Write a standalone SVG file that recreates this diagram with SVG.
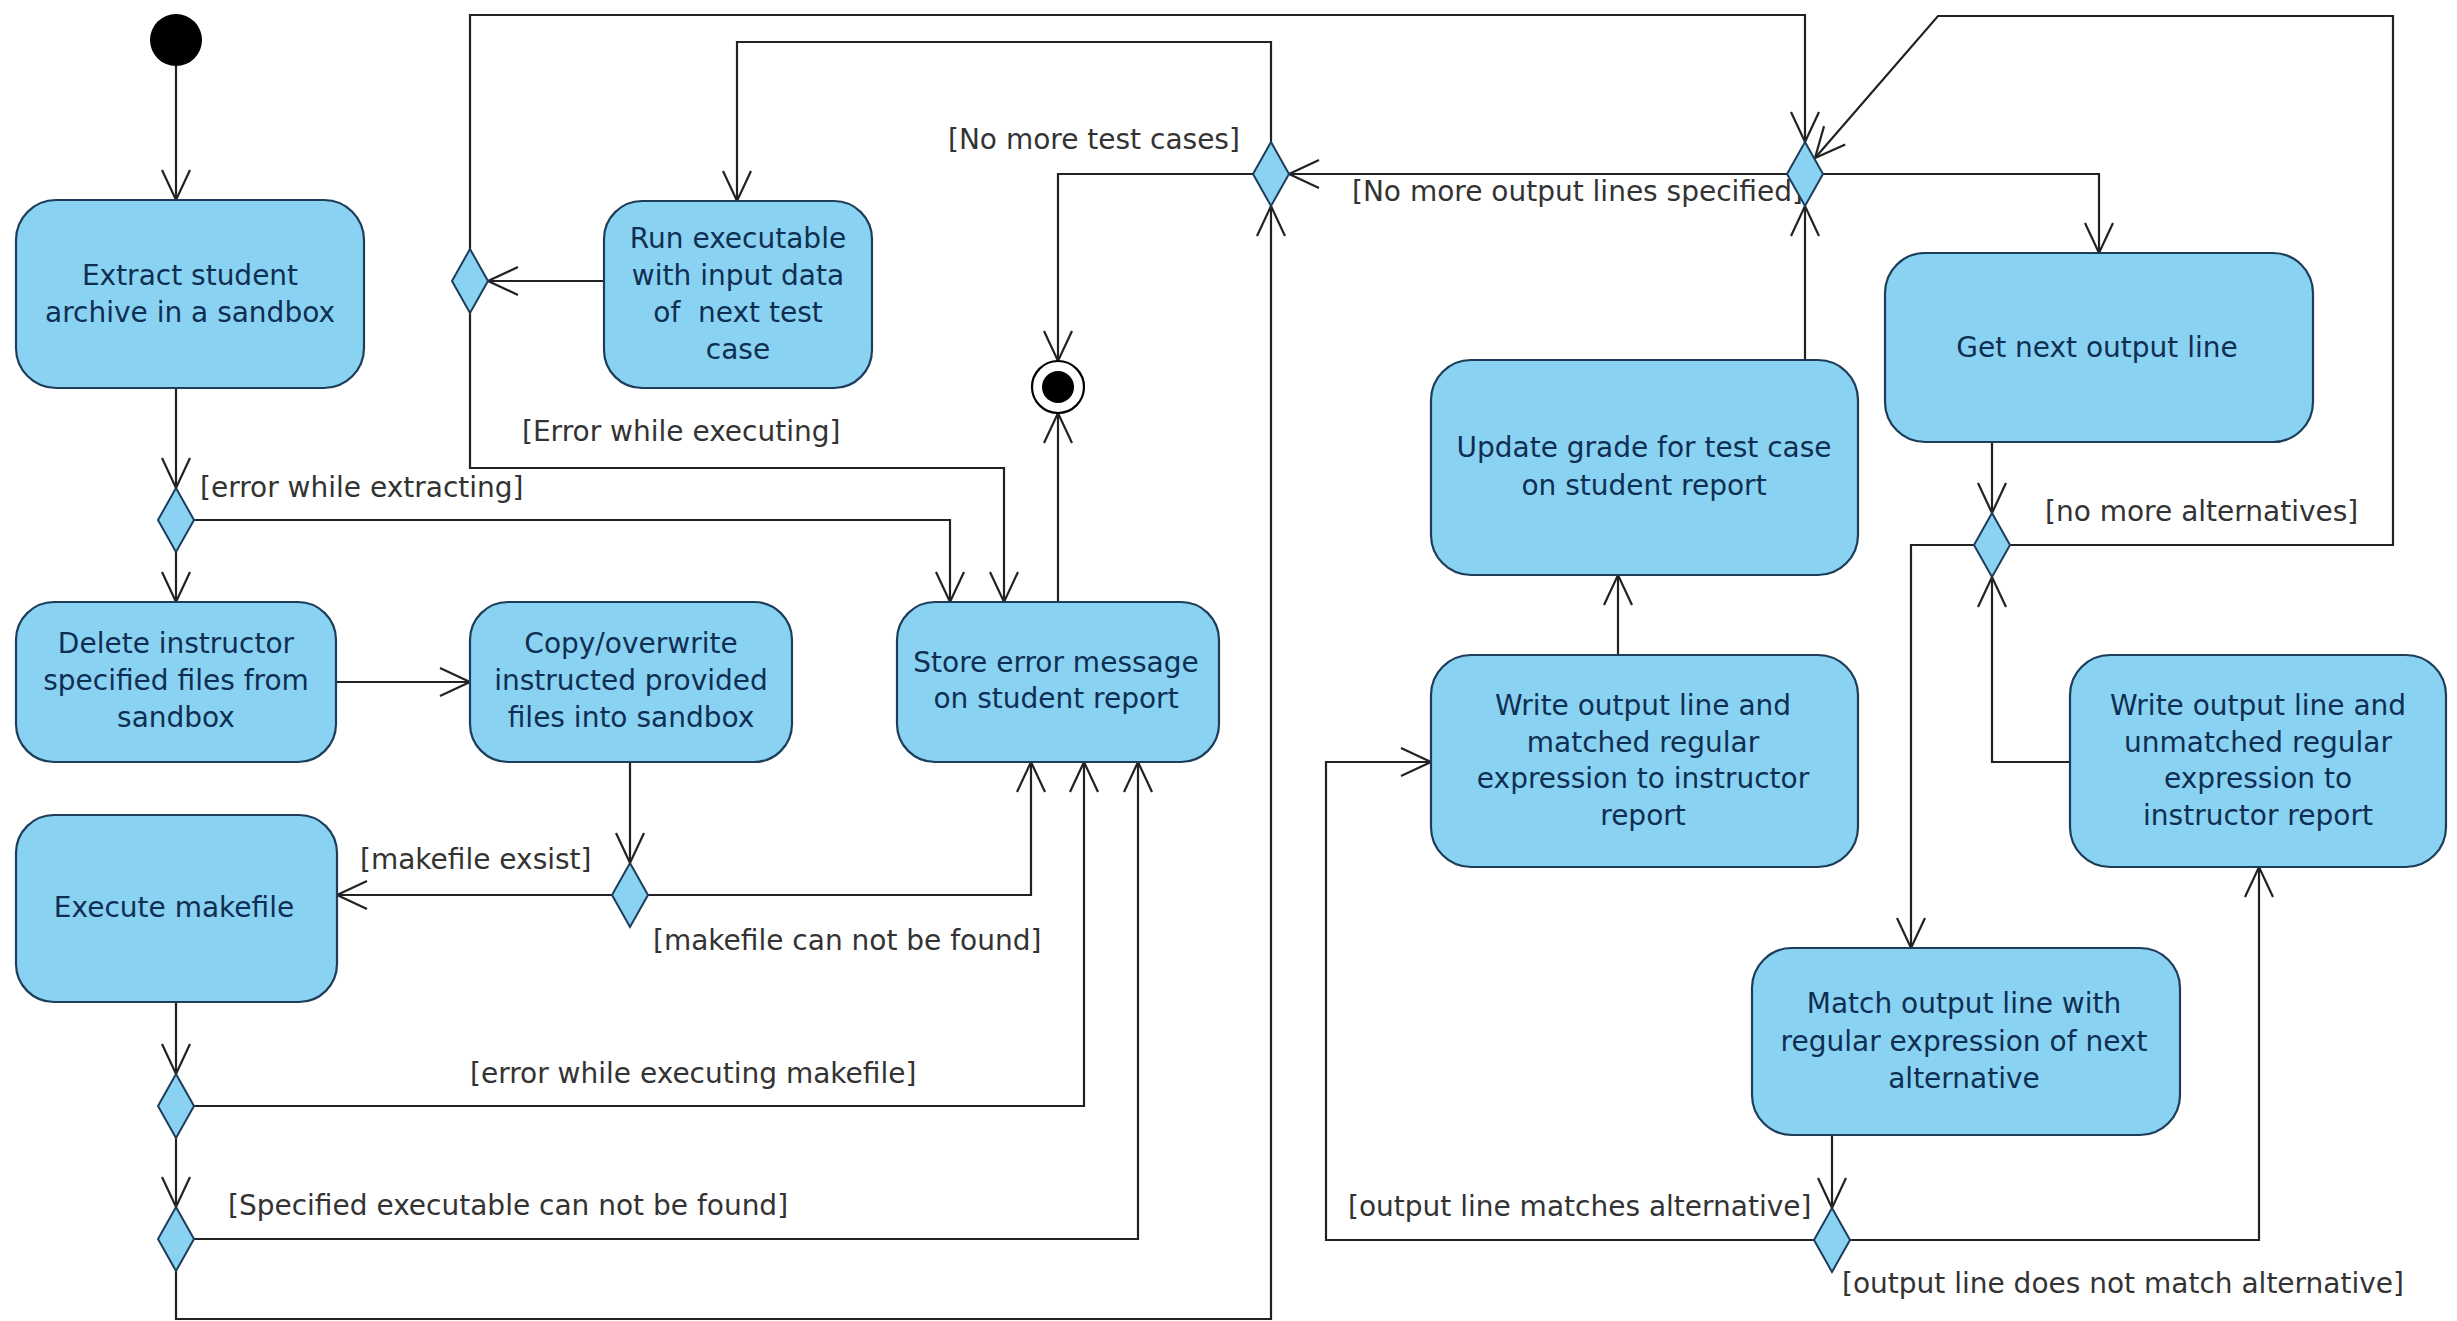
<svg xmlns="http://www.w3.org/2000/svg" width="2457" height="1321" viewBox="0 0 2457 1321">
<style>
.box{fill:#8ad2f2;stroke:#1d3d5a;stroke-width:2.2}
.dia{fill:#8ad2f2;stroke:#1d3d5a;stroke-width:2}
.nt{font-family:"DejaVu Sans",sans-serif;font-size:28px;fill:#0f2f52;text-anchor:middle}
.lb{font-family:"DejaVu Sans",sans-serif;font-size:28px;fill:#333}
.c{fill:none;stroke:#222;stroke-width:2.2;marker-end:url(#a)}
</style>
<defs>
<marker id="a" markerUnits="userSpaceOnUse" markerWidth="40" markerHeight="40" viewBox="-34 -20 40 40" refX="0" refY="0" orient="auto">
<path d="M-30,-14 L0,0 L-30,14" fill="none" stroke="#222" stroke-width="2.2"/>
</marker>
</defs>
<rect width="2457" height="1321" fill="#fff"/>

<g id="connectors">
<path class="c" d="M176,66 V200"/>
<path class="c" d="M176,388 V488"/>
<path class="c" d="M176,552 V602"/>
<path class="c" d="M194,520 H950 V602"/>
<path class="c" d="M336,682 H470"/>
<path class="c" d="M630,762 V863"/>
<path class="c" d="M612,895 H337"/>
<path class="c" d="M648,895 H1031 V762"/>
<path class="c" d="M176,1002 V1074"/>
<path class="c" d="M194,1106 H1084 V762"/>
<path class="c" d="M176,1138 V1207"/>
<path class="c" d="M194,1239 H1138 V762"/>
<path class="c" d="M176,1271 V1319 H1271 V206"/>
<path class="c" d="M1271,142 V42 H737 V201"/>
<path class="c" d="M1253,174 H1058 V361"/>
<path class="c" d="M604,281 H488"/>
<path class="c" d="M470,249 V15 H1805 V142"/>
<path class="c" d="M470,313 V468 H1004 V602"/>
<path class="c" d="M1058,602 V413"/>
<path class="c" d="M1787,174 H1289"/>
<path class="c" d="M1823,174 H2099 V253"/>
<path class="c" d="M1992,442 V513"/>
<path class="c" d="M2010,545 H2393 V16 H1938 L1815,158"/>
<path class="c" d="M1974,545 H1911 V948"/>
<path class="c" d="M1832,1135 V1208"/>
<path class="c" d="M1814,1240 H1326 V762 H1431"/>
<path class="c" d="M1850,1240 H2259 V867"/>
<path class="c" d="M2070,762 H1992 V577"/>
<path class="c" d="M1618,655 V575"/>
<path class="c" d="M1805,360 V206"/>
</g>

<g id="labels">
<text class="lb" x="948" y="149">[No more test cases]</text>
<text class="lb" x="1352" y="201">[No more output lines specified]</text>
<text class="lb" x="522" y="441">[Error while executing]</text>
<text class="lb" x="200" y="497">[error while extracting]</text>
<text class="lb" x="360" y="869">[makefile exsist]</text>
<text class="lb" x="653" y="950">[makefile can not be found]</text>
<text class="lb" x="470" y="1083">[error while executing makefile]</text>
<text class="lb" x="228" y="1215">[Specified executable can not be found]</text>
<text class="lb" x="2045" y="521">[no more alternatives]</text>
<text class="lb" x="1348" y="1216">[output line matches alternative]</text>
<text class="lb" x="1842" y="1293">[output line does not match alternative]</text>
</g>

<g id="initial"><circle cx="176" cy="40" r="26" fill="#000"/></g>
<g id="final"><circle cx="1058" cy="387" r="26" fill="#fff" stroke="#000" stroke-width="2.2"/><circle cx="1058" cy="387" r="16" fill="#000"/></g>

<g id="extract"><rect class="box" x="16" y="200" width="348" height="188" rx="40"/>
<text class="nt" x="190" y="285">Extract student</text><text class="nt" x="190" y="322">archive in a sandbox</text></g>

<g id="run"><rect class="box" x="604" y="201" width="268" height="187" rx="38"/>
<text class="nt" x="738" y="248">Run executable</text><text class="nt" x="738" y="285">with input data</text><text class="nt" x="738" y="322" xml:space="preserve">of  next test</text><text class="nt" x="738" y="359">case</text></g>

<g id="delete"><rect class="box" x="16" y="602" width="320" height="160" rx="38"/>
<text class="nt" x="176" y="653">Delete instructor</text><text class="nt" x="176" y="690">specified files from</text><text class="nt" x="176" y="727">sandbox</text></g>

<g id="copy"><rect class="box" x="470" y="602" width="322" height="160" rx="38"/>
<text class="nt" x="631" y="653">Copy/overwrite</text><text class="nt" x="631" y="690">instructed provided</text><text class="nt" x="631" y="727">files into sandbox</text></g>

<g id="store"><rect class="box" x="897" y="602" width="322" height="160" rx="38"/>
<text class="nt" x="1056" y="672">Store error message</text><text class="nt" x="1056" y="708">on student report</text></g>

<g id="execute"><rect class="box" x="16" y="815" width="321" height="187" rx="38"/>
<text class="nt" x="174" y="917">Execute makefile</text></g>

<g id="get"><rect class="box" x="1885" y="253" width="428" height="189" rx="40"/>
<text class="nt" x="2097" y="357">Get next output line</text></g>

<g id="update"><rect class="box" x="1431" y="360" width="427" height="215" rx="40"/>
<text class="nt" x="1644" y="457">Update grade for test case</text><text class="nt" x="1644" y="495">on student report</text></g>

<g id="writematched"><rect class="box" x="1431" y="655" width="427" height="212" rx="40"/>
<text class="nt" x="1643" y="715">Write output line and</text><text class="nt" x="1643" y="752">matched regular</text><text class="nt" x="1643" y="788">expression to instructor</text><text class="nt" x="1643" y="825">report</text></g>

<g id="writeunmatched"><rect class="box" x="2070" y="655" width="376" height="212" rx="40"/>
<text class="nt" x="2258" y="715">Write output line and</text><text class="nt" x="2258" y="752">unmatched regular</text><text class="nt" x="2258" y="788">expression to</text><text class="nt" x="2258" y="825">instructor report</text></g>

<g id="match"><rect class="box" x="1752" y="948" width="428" height="187" rx="40"/>
<text class="nt" x="1964" y="1013">Match output line with</text><text class="nt" x="1964" y="1051">regular expression of next</text><text class="nt" x="1964" y="1088">alternative</text></g>

<g id="d_extract"><polygon class="dia" points="176,488 194,520 176,552 158,520"/></g>
<g id="d_make"><polygon class="dia" points="630,863 648,895 630,927 612,895"/></g>
<g id="d_exec1"><polygon class="dia" points="176,1074 194,1106 176,1138 158,1106"/></g>
<g id="d_exec2"><polygon class="dia" points="176,1207 194,1239 176,1271 158,1239"/></g>
<g id="d_run"><polygon class="dia" points="470,249 488,281 470,313 452,281"/></g>
<g id="d_tests"><polygon class="dia" points="1271,142 1289,174 1271,206 1253,174"/></g>
<g id="d_lines"><polygon class="dia" points="1805,142 1823,174 1805,206 1787,174"/></g>
<g id="d_alt"><polygon class="dia" points="1992,513 2010,545 1992,577 1974,545"/></g>
<g id="d_match"><polygon class="dia" points="1832,1208 1850,1240 1832,1272 1814,1240"/></g>
</svg>
